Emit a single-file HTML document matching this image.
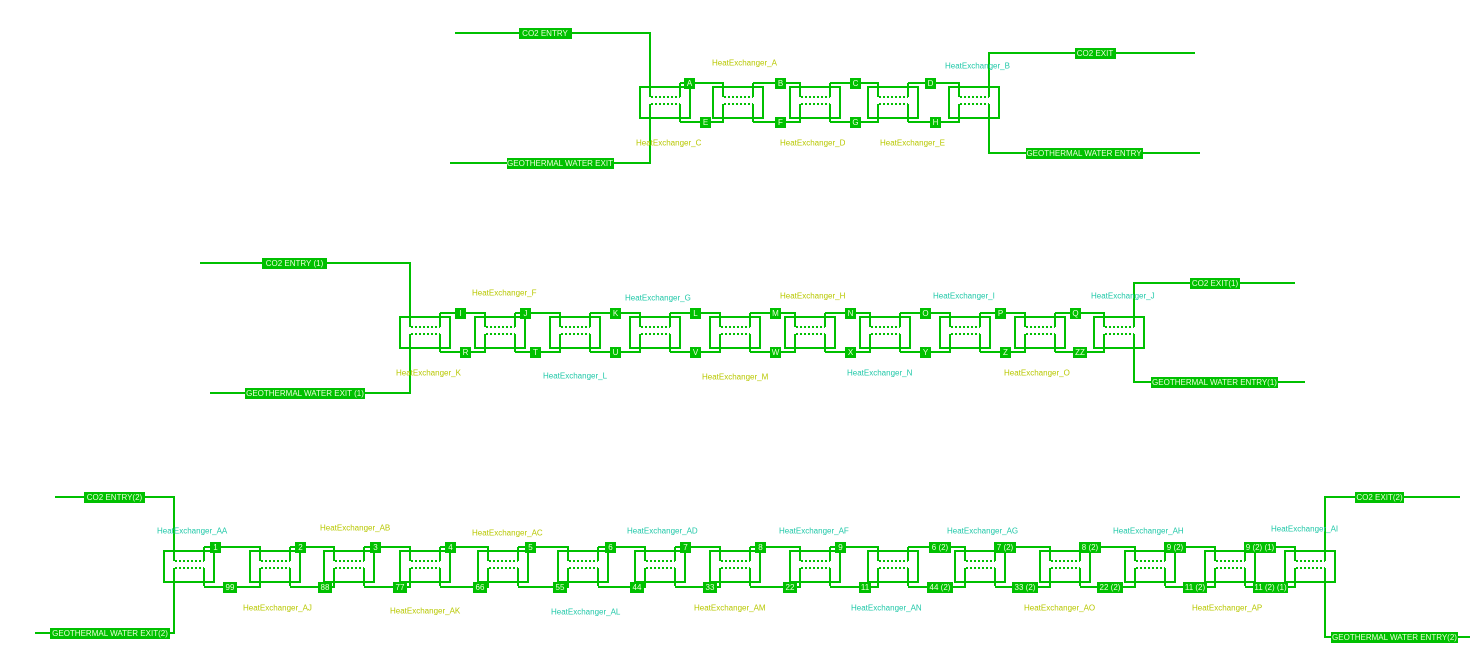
<!DOCTYPE html>
<html><head><meta charset="utf-8"><style>
html,body{margin:0;padding:0;background:#fff;}
svg{display:block;}
.l{fill:none;stroke:#00c000;stroke-width:2;}
.d{fill:none;stroke:#00c000;stroke-width:2;stroke-dasharray:2,2;}
.b{fill:#00c000;}
.t{font-family:"Liberation Sans",sans-serif;font-size:8px;fill:#eaffd8;text-anchor:middle;dominant-baseline:central;}
.y{font-family:"Liberation Sans",sans-serif;font-size:8px;fill:#b8c800;dominant-baseline:central;}
.c{font-family:"Liberation Sans",sans-serif;font-size:8px;fill:#20c8a8;dominant-baseline:central;}
</style></head><body>
<svg width="1478" height="652" viewBox="0 0 1478 652" xmlns="http://www.w3.org/2000/svg">
<defs>
<g id="hx">
<path class="l" d="M0,4H50V35H0Z M10,4V14 M10,21V35 M40,0V14 M40,21V39"/>
<path class="d" d="M11,14H40 M11,21H40"/>
</g>
</defs>

<!-- TOP ROW -->
<use href="#hx" x="640" y="83"/><use href="#hx" x="713" y="83"/><use href="#hx" x="790" y="83"/><use href="#hx" x="868" y="83"/><use href="#hx" x="949" y="83"/>
<path class="l" d="M680 83H723V87 M753 83H800V87 M830 83H878V87 M908 83H959V87 M680 122H723V118 M753 122H800V118 M830 122H878V118 M908 122H959V118 M455 33H650V87 M650 118V163H450 M989 87V53H1195 M989 118V153H1200"/>
<rect class="b" x="519" y="28" width="53" height="11"/><text class="t" x="545" y="33.5">CO2  ENTRY</text>
<rect class="b" x="507" y="158" width="107" height="11"/><text class="t" x="560" y="163.5">GEOTHERMAL WATER EXIT</text>
<rect class="b" x="1075" y="48" width="41" height="11"/><text class="t" x="1095" y="53.5">CO2  EXIT</text>
<rect class="b" x="1026" y="148" width="117" height="11"/><text class="t" x="1084" y="153.5">GEOTHERMAL WATER ENTRY</text>
<g>
<rect class="b" x="684" y="78" width="11" height="11"/><text class="t" x="689.5" y="83.5">A</text>
<rect class="b" x="775" y="78" width="11" height="11"/><text class="t" x="780.5" y="83.5">B</text>
<rect class="b" x="850" y="78" width="11" height="11"/><text class="t" x="855.5" y="83.5">C</text>
<rect class="b" x="925" y="78" width="11" height="11"/><text class="t" x="930.5" y="83.5">D</text>
<rect class="b" x="700" y="117" width="11" height="11"/><text class="t" x="705.5" y="122.5">E</text>
<rect class="b" x="775" y="117" width="11" height="11"/><text class="t" x="780.5" y="122.5">F</text>
<rect class="b" x="850" y="117" width="11" height="11"/><text class="t" x="855.5" y="122.5">G</text>
<rect class="b" x="930" y="117" width="11" height="11"/><text class="t" x="935.5" y="122.5">H</text>
</g>
<text class="y" x="712" y="63">HeatExchanger_A</text>
<text class="c" x="945" y="66">HeatExchanger_B</text>
<text class="y" x="636" y="143">HeatExchanger_C</text>
<text class="y" x="780" y="143">HeatExchanger_D</text>
<text class="y" x="880" y="143">HeatExchanger_E</text>

<!-- MIDDLE ROW -->
<use href="#hx" x="400" y="313"/><use href="#hx" x="475" y="313"/><use href="#hx" x="550" y="313"/><use href="#hx" x="630" y="313"/><use href="#hx" x="710" y="313"/><use href="#hx" x="785" y="313"/><use href="#hx" x="860" y="313"/><use href="#hx" x="940" y="313"/><use href="#hx" x="1015" y="313"/><use href="#hx" x="1094" y="313"/>
<path class="l" d="M440 313H485V317 M515 313H560V317 M590 313H640V317 M670 313H720V317 M750 313H795V317 M825 313H870V317 M900 313H950V317 M980 313H1025V317 M1055 313H1104V317 M440 352H485V348 M515 352H560V348 M590 352H640V348 M670 352H720V348 M750 352H795V348 M825 352H870V348 M900 352H950V348 M980 352H1025V348 M1055 352H1104V348 M200 263H410V317 M410 348V393H210 M1134 317V283H1295 M1134 348V382H1305"/>
<rect class="b" x="262" y="258" width="65" height="11"/><text class="t" x="294.5" y="263.5">CO2  ENTRY (1)</text>
<rect class="b" x="245" y="388" width="120" height="11"/><text class="t" x="305" y="393.5">GEOTHERMAL WATER EXIT (1)</text>
<rect class="b" x="1190" y="278" width="50" height="11"/><text class="t" x="1215" y="283.5">CO2  EXIT(1)</text>
<rect class="b" x="1151" y="377" width="127" height="11"/><text class="t" x="1214.5" y="382.5">GEOTHERMAL WATER ENTRY(1)</text>
<g>
<rect class="b" x="455" y="308" width="11" height="11"/><text class="t" x="460.5" y="313.5">I</text>
<rect class="b" x="520" y="308" width="11" height="11"/><text class="t" x="525.5" y="313.5">J</text>
<rect class="b" x="610" y="308" width="11" height="11"/><text class="t" x="615.5" y="313.5">K</text>
<rect class="b" x="690" y="308" width="11" height="11"/><text class="t" x="695.5" y="313.5">L</text>
<rect class="b" x="770" y="308" width="11" height="11"/><text class="t" x="775.5" y="313.5">M</text>
<rect class="b" x="845" y="308" width="11" height="11"/><text class="t" x="850.5" y="313.5">N</text>
<rect class="b" x="920" y="308" width="11" height="11"/><text class="t" x="925.5" y="313.5">O</text>
<rect class="b" x="995" y="308" width="11" height="11"/><text class="t" x="1000.5" y="313.5">P</text>
<rect class="b" x="1070" y="308" width="11" height="11"/><text class="t" x="1075.5" y="313.5">Q</text>
<rect class="b" x="460" y="347" width="11" height="11"/><text class="t" x="465.5" y="352.5">R</text>
<rect class="b" x="530" y="347" width="11" height="11"/><text class="t" x="535.5" y="352.5">T</text>
<rect class="b" x="610" y="347" width="11" height="11"/><text class="t" x="615.5" y="352.5">U</text>
<rect class="b" x="690" y="347" width="11" height="11"/><text class="t" x="695.5" y="352.5">V</text>
<rect class="b" x="770" y="347" width="11" height="11"/><text class="t" x="775.5" y="352.5">W</text>
<rect class="b" x="845" y="347" width="11" height="11"/><text class="t" x="850.5" y="352.5">X</text>
<rect class="b" x="920" y="347" width="11" height="11"/><text class="t" x="925.5" y="352.5">Y</text>
<rect class="b" x="1000" y="347" width="11" height="11"/><text class="t" x="1005.5" y="352.5">Z</text>
<rect class="b" x="1073" y="347" width="14" height="11"/><text class="t" x="1080" y="352.5">ZZ</text>
</g>
<text class="y" x="472" y="293">HeatExchanger_F</text>
<text class="c" x="625" y="298">HeatExchanger_G</text>
<text class="y" x="780" y="296">HeatExchanger_H</text>
<text class="c" x="933" y="296">HeatExchanger_I</text>
<text class="c" x="1091" y="296">HeatExchanger_J</text>
<text class="y" x="396" y="373">HeatExchanger_K</text>
<text class="c" x="543" y="376">HeatExchanger_L</text>
<text class="y" x="702" y="377">HeatExchanger_M</text>
<text class="c" x="847" y="373">HeatExchanger_N</text>
<text class="y" x="1004" y="373">HeatExchanger_O</text>

<!-- BOTTOM ROW -->
<use href="#hx" x="164" y="547"/><use href="#hx" x="250" y="547"/><use href="#hx" x="324" y="547"/><use href="#hx" x="400" y="547"/><use href="#hx" x="478" y="547"/><use href="#hx" x="558" y="547"/><use href="#hx" x="635" y="547"/><use href="#hx" x="710" y="547"/><use href="#hx" x="790" y="547"/><use href="#hx" x="868" y="547"/><use href="#hx" x="955" y="547"/><use href="#hx" x="1040" y="547"/><use href="#hx" x="1125" y="547"/><use href="#hx" x="1205" y="547"/><use href="#hx" x="1285" y="547"/>
<path class="l" d="M204 547H260V551 M290 547H334V551 M364 547H410V551 M440 547H488V551 M518 547H568V551 M598 547H645V551 M675 547H720V551 M750 547H800V551 M830 547H878V551 M908 547H965V551 M995 547H1050V551 M1080 547H1135V551 M1165 547H1215V551 M1245 547H1295V551 M204 587H260V582 M290 587H334V582 M364 587H410V582 M440 587H488V582 M518 587H568V582 M598 587H645V582 M675 587H720V582 M750 587H800V582 M830 587H878V582 M908 587H965V582 M995 587H1050V582 M1080 587H1135V582 M1165 587H1215V582 M1245 587H1295V582 M55 497H174V551 M174 582V633H35 M1325 551V497H1460 M1325 582V637H1470"/>
<rect class="b" x="84" y="492" width="61" height="11"/><text class="t" x="114.5" y="497.5">CO2  ENTRY(2)</text>
<rect class="b" x="50" y="628" width="120" height="11"/><text class="t" x="110" y="633.5">GEOTHERMAL WATER EXIT(2)</text>
<rect class="b" x="1355" y="492" width="49" height="11"/><text class="t" x="1379.5" y="497.5">CO2  EXIT(2)</text>
<rect class="b" x="1331" y="632" width="127" height="11"/><text class="t" x="1394.5" y="637.5">GEOTHERMAL WATER ENTRY(2)</text>
<g>
<rect class="b" x="210" y="542" width="11" height="11"/><text class="t" x="215.5" y="547.5">1</text>
<rect class="b" x="295" y="542" width="11" height="11"/><text class="t" x="300.5" y="547.5">2</text>
<rect class="b" x="370" y="542" width="11" height="11"/><text class="t" x="375.5" y="547.5">3</text>
<rect class="b" x="445" y="542" width="11" height="11"/><text class="t" x="450.5" y="547.5">4</text>
<rect class="b" x="525" y="542" width="11" height="11"/><text class="t" x="530.5" y="547.5">5</text>
<rect class="b" x="605" y="542" width="11" height="11"/><text class="t" x="610.5" y="547.5">6</text>
<rect class="b" x="680" y="542" width="11" height="11"/><text class="t" x="685.5" y="547.5">7</text>
<rect class="b" x="755" y="542" width="11" height="11"/><text class="t" x="760.5" y="547.5">8</text>
<rect class="b" x="835" y="542" width="11" height="11"/><text class="t" x="840.5" y="547.5">9</text>
<rect class="b" x="929" y="542" width="22" height="11"/><text class="t" x="940" y="547.5">6 (2)</text>
<rect class="b" x="994" y="542" width="22" height="11"/><text class="t" x="1005" y="547.5">7 (2)</text>
<rect class="b" x="1079" y="542" width="22" height="11"/><text class="t" x="1090" y="547.5">8 (2)</text>
<rect class="b" x="1164" y="542" width="22" height="11"/><text class="t" x="1175" y="547.5">9 (2)</text>
<rect class="b" x="1244" y="542" width="32" height="11"/><text class="t" x="1260" y="547.5">9 (2) (1)</text>
<rect class="b" x="223" y="582" width="14" height="11"/><text class="t" x="230" y="587.5">99</text>
<rect class="b" x="318" y="582" width="14" height="11"/><text class="t" x="325" y="587.5">88</text>
<rect class="b" x="393" y="582" width="14" height="11"/><text class="t" x="400" y="587.5">77</text>
<rect class="b" x="473" y="582" width="14" height="11"/><text class="t" x="480" y="587.5">66</text>
<rect class="b" x="553" y="582" width="14" height="11"/><text class="t" x="560" y="587.5">55</text>
<rect class="b" x="630" y="582" width="14" height="11"/><text class="t" x="637" y="587.5">44</text>
<rect class="b" x="703" y="582" width="14" height="11"/><text class="t" x="710" y="587.5">33</text>
<rect class="b" x="783" y="582" width="14" height="11"/><text class="t" x="790" y="587.5">22</text>
<rect class="b" x="859" y="582" width="12" height="11"/><text class="t" x="865" y="587.5">11</text>
<rect class="b" x="927" y="582" width="26" height="11"/><text class="t" x="940" y="587.5">44 (2)</text>
<rect class="b" x="1012" y="582" width="26" height="11"/><text class="t" x="1025" y="587.5">33 (2)</text>
<rect class="b" x="1097" y="582" width="26" height="11"/><text class="t" x="1110" y="587.5">22 (2)</text>
<rect class="b" x="1183" y="582" width="24" height="11"/><text class="t" x="1195" y="587.5">11 (2)</text>
<rect class="b" x="1253" y="582" width="35" height="11"/><text class="t" x="1270.5" y="587.5">11 (2) (1)</text>
</g>
<text class="c" x="157" y="531">HeatExchanger_AA</text>
<text class="y" x="320" y="528">HeatExchanger_AB</text>
<text class="y" x="472" y="533">HeatExchanger_AC</text>
<text class="c" x="627" y="531">HeatExchanger_AD</text>
<text class="c" x="779" y="531">HeatExchanger_AF</text>
<text class="c" x="947" y="531">HeatExchanger_AG</text>
<text class="c" x="1113" y="531">HeatExchanger_AH</text>
<text class="c" x="1271" y="529">HeatExchanger_AI</text>
<text class="y" x="243" y="608">HeatExchanger_AJ</text>
<text class="y" x="390" y="611">HeatExchanger_AK</text>
<text class="c" x="551" y="612">HeatExchanger_AL</text>
<text class="y" x="694" y="608">HeatExchanger_AM</text>
<text class="c" x="851" y="608">HeatExchanger_AN</text>
<text class="y" x="1024" y="608">HeatExchanger_AO</text>
<text class="y" x="1192" y="608">HeatExchanger_AP</text>
</svg>
</body></html>
